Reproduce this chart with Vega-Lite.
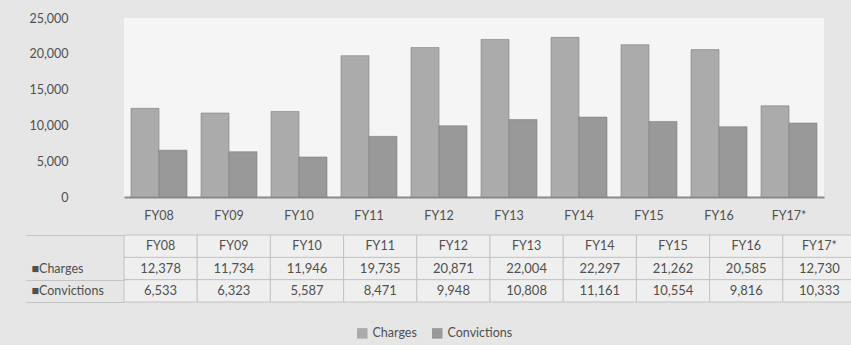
{
  "$schema": "https://vega.github.io/schema/vega-lite/v6.json",
  "background": "#e6e6e6",
  "padding": {"left": 25, "top": 12, "right": 1, "bottom": 5},
  "config": {
    "font": "Lato",
    "view": {"stroke": null},
    "axis": {"labelFont": "Lato", "labelColor": "#505050", "labelFontSize": 12.5},
    "legend": {"labelFont": "Lato", "labelColor": "#505050", "labelFontSize": 12.5}
  },
  "data": {
    "values": [
      {"fy": "FY08", "series": "Charges", "value": 12378},
      {"fy": "FY08", "series": "Convictions", "value": 6533},
      {"fy": "FY09", "series": "Charges", "value": 11734},
      {"fy": "FY09", "series": "Convictions", "value": 6323},
      {"fy": "FY10", "series": "Charges", "value": 11946},
      {"fy": "FY10", "series": "Convictions", "value": 5587},
      {"fy": "FY11", "series": "Charges", "value": 19735},
      {"fy": "FY11", "series": "Convictions", "value": 8471},
      {"fy": "FY12", "series": "Charges", "value": 20871},
      {"fy": "FY12", "series": "Convictions", "value": 9948},
      {"fy": "FY13", "series": "Charges", "value": 22004},
      {"fy": "FY13", "series": "Convictions", "value": 10808},
      {"fy": "FY14", "series": "Charges", "value": 22297},
      {"fy": "FY14", "series": "Convictions", "value": 11161},
      {"fy": "FY15", "series": "Charges", "value": 21262},
      {"fy": "FY15", "series": "Convictions", "value": 10554},
      {"fy": "FY16", "series": "Charges", "value": 20585},
      {"fy": "FY16", "series": "Convictions", "value": 9816},
      {"fy": "FY17*", "series": "Charges", "value": 12730},
      {"fy": "FY17*", "series": "Convictions", "value": 10333}
    ]
  },
  "spacing": 38,
  "bounds": "flush",
  "vconcat": [
    {
      "width": 700,
      "height": 179,
      "view": {"fill": "#f5f5f5"},
      "mark": {"type": "bar", "stroke": "#808080", "strokeWidth": 1, "strokeOpacity": 0.6},
      "encoding": {
        "x": {
          "field": "fy", "type": "nominal", "sort": null,
          "scale": {"paddingInner": 0.2, "paddingOuter": 0.1},
          "axis": {"title": null, "labelAngle": 0, "ticks": false, "domainColor": "#8a8a8a", "domainWidth": 2, "labelPadding": 12}
        },
        "xOffset": {"field": "series", "sort": ["Charges", "Convictions"]},
        "y": {
          "field": "value", "type": "quantitative",
          "scale": {"domain": [0, 25000]},
          "axis": {"title": null, "values": [0, 5000, 10000, 15000, 20000, 25000], "format": ",d", "grid": false, "domain": false, "ticks": false, "labelPadding": 56}
        },
        "color": {
          "field": "series", "type": "nominal", "sort": ["Charges", "Convictions"],
          "scale": {"range": ["#ababab", "#999999"]},
          "legend": {"title": null, "orient": "none", "legendX": 232, "legendY": 309, "direction": "horizontal", "symbolType": "square", "symbolSize": 110, "symbolStrokeWidth": 0, "columnPadding": 14}
        }
      }
    },
    {
      "width": 732,
      "height": 67,
      "encoding": {
        "x": {
          "field": "fy", "type": "nominal", "sort": null,
          "scale": {"paddingInner": 0, "paddingOuter": 0},
          "axis": null
        }
      },
      "layer": [
        {
          "mark": {"type": "rect", "fill": "#efefef", "stroke": "#c4c4c4", "strokeWidth": 1},
          "encoding": {
            "y": {
              "field": "series", "type": "nominal",
              "scale": {"domain": ["FY", "Charges", "Convictions"], "paddingInner": 0, "paddingOuter": 0},
              "axis": {"title": null, "labelExpr": "indexof(['Charges','Convictions'], datum.value) >= 0 ? '\u25a0' + datum.value : ''", "labelAlign": "left", "labelPadding": -5, "domain": false, "tickBand": "extent", "tickSize": 98, "tickColor": "#c4c4c4", "tickOpacity": {"condition": {"test": "datum.index == 0", "value": 0}, "value": 1}}
            }
          }
        },
        {
          "transform": [{"filter": "datum.series == 'Charges'"}],
          "mark": {"type": "rect", "fill": "#efefef", "stroke": "#c4c4c4", "strokeWidth": 1},
          "encoding": {"y": {"datum": "FY", "type": "nominal"}}
        },
        {
          "mark": {"type": "text", "fontSize": 13, "color": "#505050", "font": "Lato"},
          "encoding": {
            "y": {"field": "series", "type": "nominal"},
            "text": {"field": "value", "type": "quantitative", "format": ","}
          }
        },
        {
          "transform": [{"filter": "datum.series == 'Charges'"}],
          "mark": {"type": "text", "fontSize": 12.5, "color": "#505050", "font": "Lato"},
          "encoding": {
            "y": {"datum": "FY", "type": "nominal"},
            "text": {"field": "fy", "type": "nominal"}
          }
        }
      ]
    }
  ]
}
